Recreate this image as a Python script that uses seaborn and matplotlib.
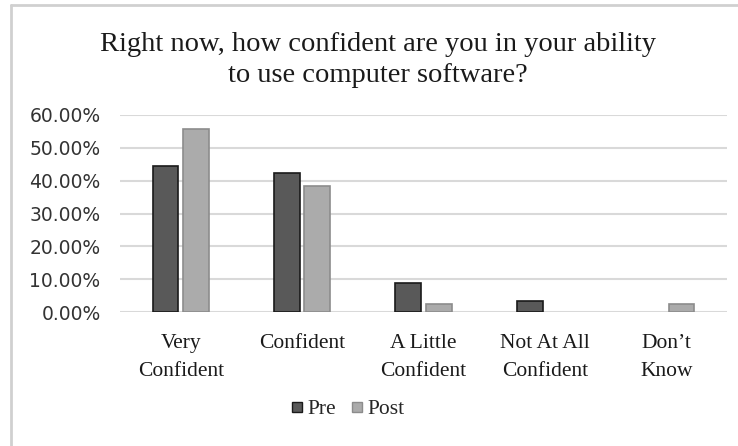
"""Pre/post confidence bar chart"""

import pandas as pd
import seaborn as sns
import matplotlib.pyplot as plt
from matplotlib.lines import Line2D
from matplotlib.ticker import PercentFormatter

sns.set_style("white")

categories = ["Very\nConfident", "Confident", "A Little\nConfident",
              "Not At All\nConfident", "Don\u2019t\nKnow"]
pre = [44.4, 42.2, 8.9, 3.3, 0.0]
post = [55.8, 38.4, 2.3, 0.0, 2.3]
groups = ["Pre", "Post"]
colors = {"Pre": "#595959", "Post": "#ababab"}
edges = {"Pre": "#1a1a1a", "Post": "#8c8c8c"}

data = pd.DataFrame({
    "category": categories * 2,
    "group": ["Pre"] * len(categories) + ["Post"] * len(categories),
    "value": [v / 100 for v in pre + post],
})

serif = ["Liberation Serif", "DejaVu Serif"]

fig = plt.figure(figsize=(7.38, 4.46), dpi=100)
ax = fig.add_axes([120 / 738, 1 - 312 / 446, 607 / 738, 197 / 446])

sns.barplot(
    data=data,
    x="category",
    y="value",
    hue="group",
    hue_order=groups,
    palette=colors,
    width=0.5,
    gap=0.15,
    linewidth=1.2,
    legend=False,
    ax=ax,
)
for container, g in zip(ax.containers, groups):
    for bar in container:
        bar.set_edgecolor(edges[g])
        bar.set_zorder(3)
        if bar.get_height() == 0:
            bar.set_visible(False)

ax.set_ylim(0, 0.6)
ax.set_yticks([i / 10 for i in range(7)])
ax.yaxis.set_major_formatter(PercentFormatter(1.0, decimals=2))
ax.grid(axis="y", color="#d9d9d9", linewidth=1.5, zorder=0)
ax.set_axisbelow(True)
sns.despine(ax=ax, left=True, bottom=True)
ax.set_xlabel("")
ax.set_ylabel("")
ax.tick_params(axis="both", length=0)
ax.tick_params(axis="y", labelsize=13.5, pad=14, labelcolor="#333333")
ax.tick_params(axis="x", pad=16)
for lbl in ax.get_xticklabels():
    lbl.set_family(serif)
    lbl.set_fontsize(15.5)
    lbl.set_linespacing(1.6)
    lbl.set_color("#1a1a1a")

fig.text(0.512, 0.865, "Right now, how confident are you in your ability\nto use computer software?",
         ha="center", va="center", family=serif, fontsize=20.5, linespacing=1.3,
         color="#1a1a1a")

handles = [Line2D([], [], marker="s", linestyle="", markersize=7,
                  markerfacecolor=colors[g], markeredgecolor=edges[g]) for g in groups]
fig.legend(handles, groups, loc="center", bbox_to_anchor=(346 / 738, 1 - 409 / 446),
           ncol=2, frameon=False, handletextpad=0.05, columnspacing=0.5,
           handlelength=0.9, prop={"family": serif, "size": 15.5})

# chart frame (left and top edges only)
fig.add_artist(Line2D([11 / 738, 11 / 738], [0, 1 - 5 / 446], color="#d0d0d0",
                      linewidth=2, transform=fig.transFigure))
fig.add_artist(Line2D([11 / 738, 1], [1 - 5 / 446, 1 - 5 / 446], color="#d0d0d0",
                      linewidth=2, transform=fig.transFigure))

fig.savefig("out.png", dpi=100)
